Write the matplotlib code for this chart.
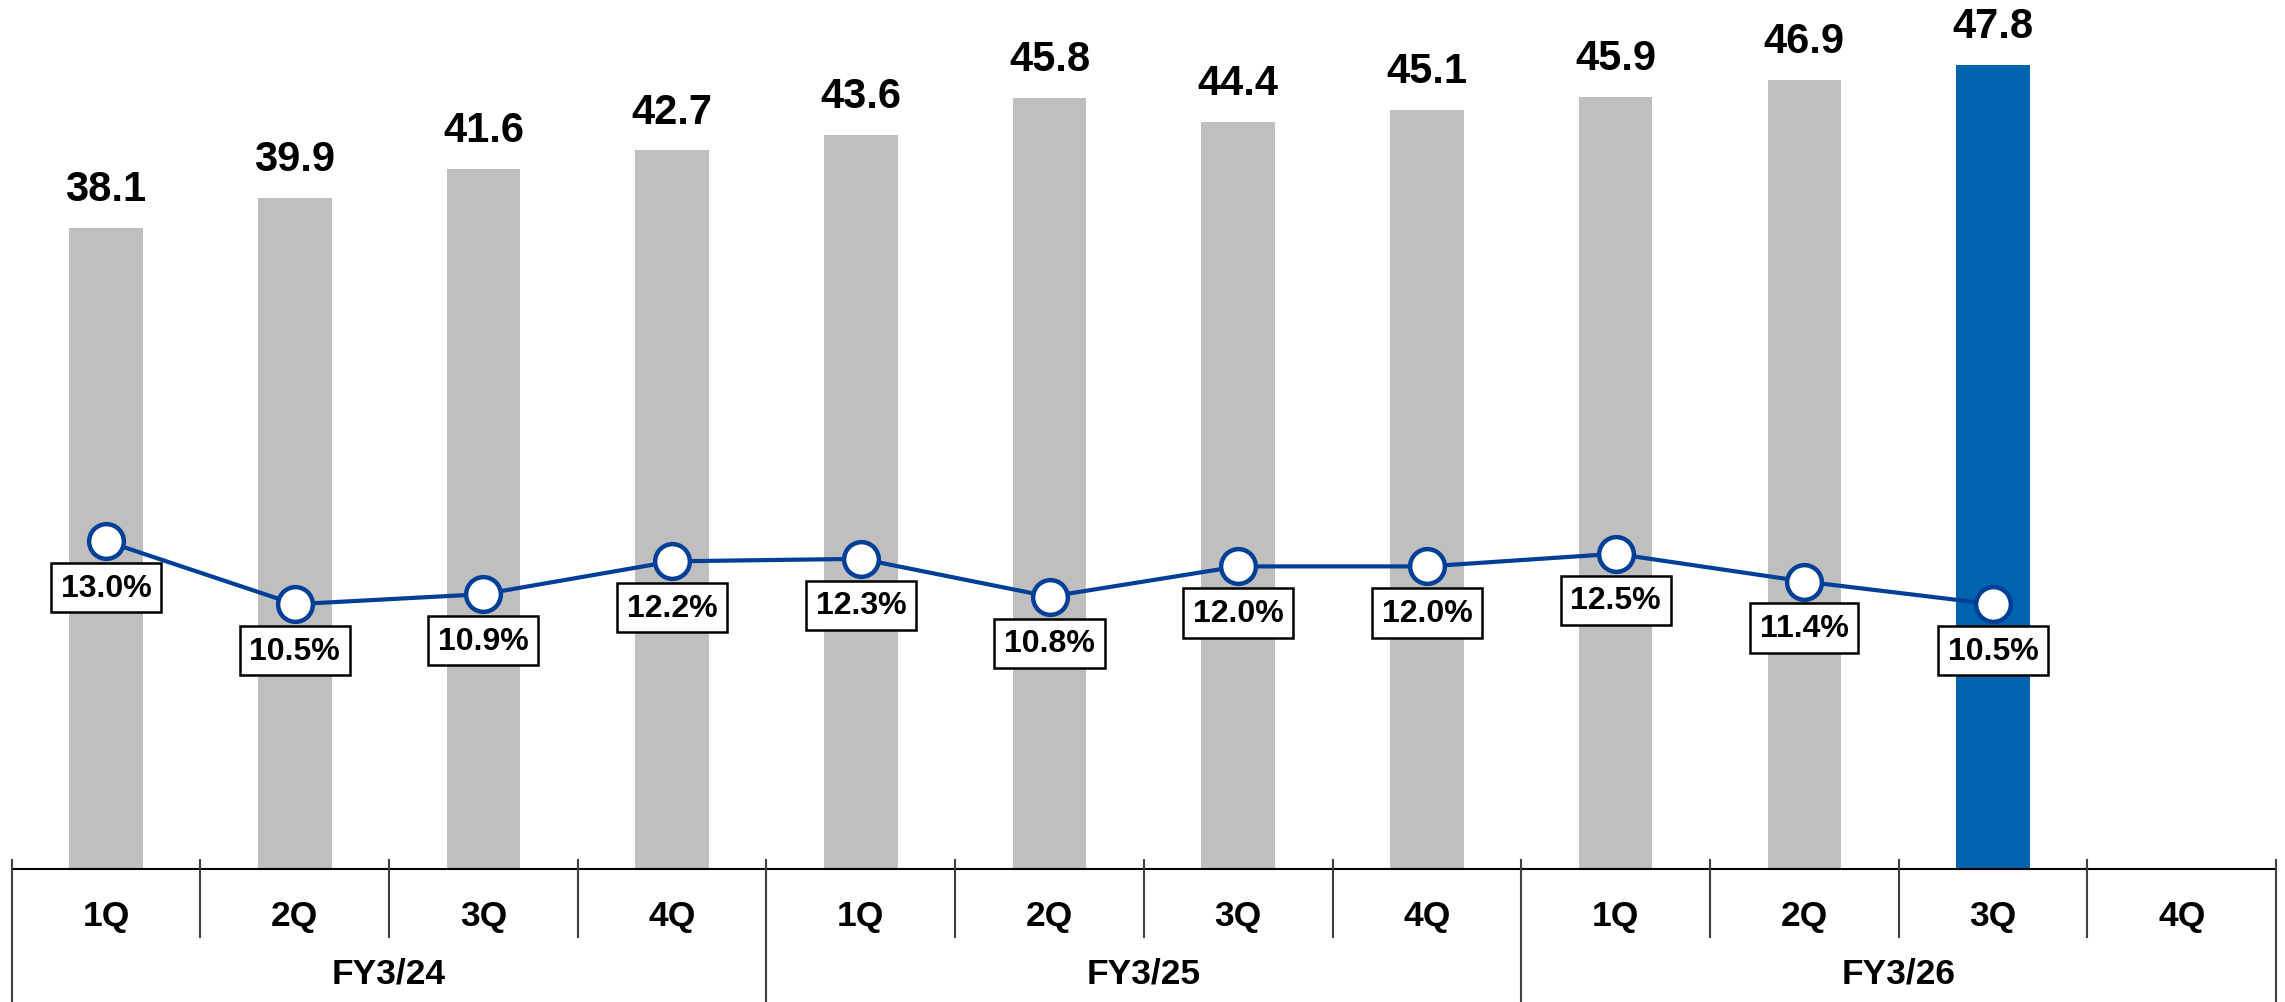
import matplotlib
matplotlib.use("Agg")
import matplotlib.pyplot as plt
import matplotlib.transforms as mtransforms

plt.rcParams['font.family'] = ['Liberation Sans', 'DejaVu Sans']

# data
quarters = ["1Q", "2Q", "3Q", "4Q"] * 3
years = ["FY3/24", "FY3/25", "FY3/26"]
sales = [38.1, 39.9, 41.6, 42.7, 43.6, 45.8, 44.4, 45.1, 45.9, 46.9, 47.8]
margin = [13.0, 10.5, 10.9, 12.2, 12.3, 10.8, 12.0, 12.0, 12.5, 11.4, 10.5]

GRAY = "#BFBFBF"
BLUE = "#0063B0"
LINE = "#003F98"

fig = plt.figure(figsize=(22.85, 10.03), dpi=100)
ax = fig.add_axes([0.0051, 0.1326, 0.9910, 0.8674])

x = list(range(len(sales)))
colors = [GRAY] * (len(sales) - 1) + [BLUE]
ax.bar(x, sales, width=0.39, color=colors, zorder=1)
for xi, v in zip(x, sales):
    ax.annotate(f"{v:.1f}", (xi, v), xytext=(0, 28), textcoords="offset points",
                ha="center", va="center", fontsize=30, fontweight="bold")

ax.set_xlim(-0.5, len(quarters) - 0.5)
ax.set_ylim(0, 51.7)
for s in ax.spines.values():
    s.set_visible(False)
ax.set_xticks([])
ax.set_yticks([])

# secondary axis for the margin line
ax2 = ax.twinx()
ax2.set_ylim(0, 34.5)
ax2.set_yticks([])
for s in ax2.spines.values():
    s.set_visible(False)
ax2.plot(x, margin, color=LINE, linewidth=3, marker="o", markersize=25,
         markerfacecolor="white", markeredgecolor=LINE, markeredgewidth=3.2, zorder=3)
for xi, m in zip(x, margin):
    ax2.annotate(f"{m:.1f}%", (xi, m), xytext=(0, -33.5), textcoords="offset points",
                 ha="center", va="center", fontsize=23, fontweight="bold",
                 bbox=dict(boxstyle="square,pad=0.3", facecolor="white",
                           edgecolor="black", linewidth=1.8))

# category axis drawn by hand below the plot
trans = mtransforms.blended_transform_factory(ax.transData, ax.transAxes)
ax.plot([-0.5, len(quarters) - 0.5], [0, 0], transform=trans, color="black",
        linewidth=1.5, clip_on=False)
for i in range(len(quarters) + 1):
    bottom = -0.153 if i % 4 == 0 else -0.078
    ax.plot([i - 0.5, i - 0.5], [0.0103, bottom], transform=trans,
            color="#404040", linewidth=1.5, clip_on=False)
for i, q in enumerate(quarters):
    ax.text(i, -0.054, q, transform=trans, ha="center", va="center",
            fontsize=25.5, fontweight="bold")
for j, y in enumerate(years):
    ax.text(j * 4 + 1.5, -0.119, y, transform=trans, ha="center", va="center",
            fontsize=25.5, fontweight="bold")

fig.savefig("out.png", dpi=100)
